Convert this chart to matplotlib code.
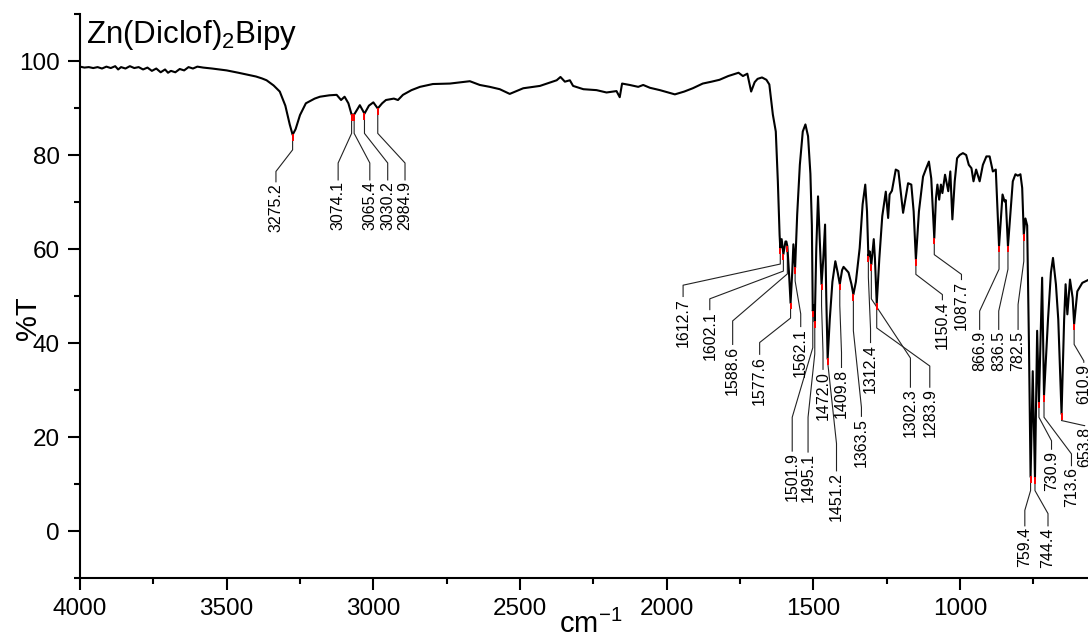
import numpy as np
import matplotlib
matplotlib.use("Agg")
from matplotlib import pyplot as plt
from matplotlib.ticker import MultipleLocator

# IR spectrum
wavenumber = [
  4000, 3985, 3970, 3955, 3940, 3925, 3910, 3895, 3880, 3870, 3860, 3845, 3830, 3815, 3800,
  3785, 3770, 3755, 3740, 3725, 3710, 3700, 3690, 3675, 3660, 3645, 3630, 3615, 3600, 3580,
  3550, 3500, 3460, 3430, 3400, 3380, 3364, 3340, 3319, 3300, 3285, 3275.2, 3265, 3250, 3230,
  3200, 3182, 3150, 3125, 3110, 3098, 3085, 3074.1, 3065.4, 3046, 3030.2, 3015, 3000, 2984.9,
  2970, 2957, 2930, 2916, 2899, 2870, 2841, 2797, 2739, 2671, 2637, 2603, 2569, 2535, 2489,
  2432, 2375, 2362, 2347, 2330, 2319, 2284, 2239, 2205, 2171, 2160, 2152, 2126, 2097, 2080,
  2057, 2023, 1972, 1940, 1911, 1877, 1847, 1820, 1790, 1770, 1755, 1740, 1725, 1712, 1700,
  1690, 1675, 1660, 1650, 1638, 1628, 1621, 1615, 1612.7, 1608, 1602.1, 1595, 1592, 1588.6,
  1583, 1577.6, 1572, 1568, 1562.1, 1555, 1546, 1536, 1527, 1518, 1510, 1505, 1501.9, 1498,
  1495.1, 1490, 1484, 1478, 1472.0, 1466, 1460, 1456, 1451.2, 1444, 1435, 1425, 1417, 1409.8,
  1402, 1397, 1380, 1370, 1363.5, 1355, 1342, 1332, 1323, 1317, 1312.4, 1308, 1302.3, 1294,
  1290, 1283.9, 1275, 1265, 1253, 1245, 1240, 1232, 1219, 1210, 1194, 1177, 1166, 1158,
  1150.4, 1140, 1126, 1115, 1106, 1098, 1087.7, 1082, 1077, 1071, 1065, 1060, 1051, 1040,
  1033, 1026, 1018, 1010, 1001, 990, 979, 970, 961, 954, 945, 933, 922, 910, 899, 888, 878,
  866.9, 855, 848, 844, 836.5, 820, 811, 803, 794, 788, 782.5, 777, 771, 765, 759.4, 752,
  744.4, 737, 730.9, 720, 713.6, 700, 690, 683, 673, 665, 653.8, 645, 640, 634, 625, 616,
  610.9, 600, 583, 560]
transmittance = [
  98.8, 98.6, 98.7, 98.5, 98.7, 98.4, 98.8, 98.5, 98.9, 98.2, 98.7, 98.4, 98.9, 98.5, 98.7,
  98.2, 98.6, 97.9, 98.4, 97.6, 98.2, 97.5, 97.9, 97.6, 98.3, 98.0, 98.7, 98.4, 98.8, 98.6,
  98.4, 98.0, 97.5, 97.1, 96.7, 96.3, 95.9, 94.8, 93.5, 90.5, 86.5, 84.3, 85.5, 88.5, 91.0,
  92.0, 92.4, 92.7, 92.8, 91.7, 92.4, 91.0, 88.6, 88.6, 90.6, 88.8, 90.5, 91.2, 89.9,
  91.0, 91.7, 92.0, 91.7, 92.8, 93.8, 94.5, 95.1, 95.2, 95.7, 94.9, 94.5, 94.0, 93.0, 94.2,
  94.7, 95.9, 96.6, 95.6, 95.9, 94.7, 94.0, 93.8, 93.3, 93.6, 92.3, 95.2, 94.9, 94.5, 94.9,
  94.3, 93.8, 92.9, 93.5, 94.2, 95.2, 95.6, 96.0, 96.8, 97.2, 97.5, 96.8, 97.3, 93.5, 95.5,
  96.2, 96.5, 96.0, 95.0, 88.6, 85.0, 74.4, 63.0, 60.2, 62.1, 58.9, 61.6, 61.6, 60.6,
  55.0, 48.5, 55.0, 61.0, 56.0, 67.4, 77.9, 85.0, 86.5, 84.0, 76.0, 65.0, 46.8, 48.0,
  44.5, 60.0, 71.2, 62.0, 52.5, 58.0, 65.2, 50.0, 36.6, 45.0, 53.0, 57.4, 55.0, 52.5,
  55.5, 56.2, 55.0, 52.5, 50.3, 53.0, 60.2, 69.5, 73.7, 68.0, 58.5, 59.5, 56.7, 62.1,
  58.0, 48.3, 58.0, 67.0, 72.2, 66.6, 71.6, 72.4, 76.9, 76.6, 67.7, 74.0, 73.7, 68.0,
  57.8, 68.0, 75.4, 77.2, 78.6, 75.0, 62.3, 70.8, 73.7, 70.5, 73.7, 71.9, 75.8, 72.3,
  76.5, 66.3, 74.4, 79.3, 80.0, 80.4, 80.0, 77.9, 77.2, 74.4, 76.9, 74.4, 77.9, 79.7, 79.7, 76.5, 76.9,
  60.6, 71.6, 70.1, 70.4, 60.6, 74.4, 75.9, 75.6, 75.9, 73.0, 63.1, 66.5, 65.0, 40.0, 11.5, 34.0,
  11.3, 42.6, 27.4, 53.9, 28.8, 45.0, 55.0, 58.1, 52.5, 45.0, 24.9, 45.0, 52.5, 46.1, 53.5, 49.6,
  44.0, 51.0, 52.8, 53.5]

peak_labels = [3275.2, 3074.1, 3065.4, 3030.2, 2984.9, 1612.7, 1602.1, 1588.6, 1577.6, 1562.1,
  1501.9, 1495.1, 1472.0, 1451.2, 1409.8, 1363.5, 1312.4, 1302.3, 1283.9, 1150.4, 1087.7,
  866.9, 836.5, 782.5, 759.4, 744.4, 730.9, 713.6, 653.8, 610.9]

# leader layout: where each label sits and where its leader bends
label_x = [3332, 3120, 3012, 2951, 2892, 1944, 1853, 1775, 1683, 1543,
  1572, 1518, 1467, 1421, 1404, 1336, 1305, 1169, 1103, 1060, 995,
  933, 868, 802, 779, 700, 688, 620, 575, 578]
knee_top = [81.1, 84.6, 84.6, 84.6, 84.6, 56.8, 55.3, 54.7, 45.3, 53.2,
  39.0, 37.7, 48.0, 36.0, 48.0, 42.6, 54.0, 49.4, 43.2, 54.6, 58.8,
  55.7, 55.7, 57.4, 8.6, 8.6, 24.2, 24.2, 23.5, 39.7]
knee_bottom = [76.5, 78.3, 78.3, 78.3, 78.3, 52.3, 49.4, 44.7, 40.1, 46.2,
  24.2, 24.2, 38.0, 18.6, 38.0, 26.3, 43.0, 36.8, 35.1, 50.3, 54.6,
  46.8, 46.8, 48.2, 4.4, 3.7, 19.2, 16.4, 22.4, 36.2]
text_top = [74.0, 74.4, 74.4, 74.4, 74.4, 49.6, 46.8, 39.4, 37.3, 43.2,
  16.7, 16.5, 34.1, 12.5, 34.5, 24.1, 39.8, 30.3, 30.3, 48.9, 53.2,
  42.6, 42.6, 42.6, 0.8, 0.8, 17.1, 13.6, 22.1, 35.6]

x_ticks = [4000, 3500, 3000, 2500, 2000, 1500, 1000]

plt.rcParams['font.family'] = ['Liberation Sans', 'DejaVu Sans']
plt.rcParams['mathtext.fontset'] = 'custom'
plt.rcParams['mathtext.rm'] = 'Liberation Sans'
plt.rcParams['mathtext.it'] = 'Liberation Sans:italic'
plt.rcParams['mathtext.default'] = 'regular'

fig = plt.figure(figsize=(10.88, 6.41), dpi=100)
ax = fig.add_axes([80 / 1088, 63 / 641, 1056 / 1088, 564 / 641])

ax.plot(wavenumber, transmittance, color='black', lw=1.5, zorder=3)

peak_t = np.interp(peak_labels, wavenumber[::-1], transmittance[::-1])
for wn, t, lx, k1, k2, top in zip(peak_labels, peak_t, label_x, knee_top, knee_bottom, text_top):
  ax.plot([wn, wn, lx, lx], [t, k1, k2, top + 0.3], color='#222222', lw=0.8, zorder=2)
  ax.plot([wn, wn], [t - 0.1, t - 1.1], color='red', lw=1.4, zorder=4)
  ax.text(lx, top, f"{wn:.1f}", rotation=90, ha='center', va='top', fontsize=11.5)

ax.set_xlim(4000, 400)
ax.set_ylim(-10, 110)
ax.set_xticks(x_ticks)
ax.xaxis.set_minor_locator(MultipleLocator(250))
ax.yaxis.set_major_locator(MultipleLocator(20))
ax.yaxis.set_minor_locator(MultipleLocator(10))
for side in ['top', 'right']:
  ax.spines[side].set_visible(False)
for side in ['left', 'bottom']:
  ax.spines[side].set_linewidth(1.5)
ax.tick_params(which='major', direction='out', length=8.5, width=1.5, labelsize=17.5, pad=6)
ax.tick_params(which='minor', direction='out', length=4, width=1.5)

ax.text(0.0057, 0.9486, "Zn(Diclof)$_2$Bipy", fontsize=22.5, transform=ax.transAxes, va='baseline')
ax.text(-0.049, 0.461, '%T', rotation=90, fontsize=21, ha='center', va='center', transform=ax.transAxes)
ax.text(0.484, -0.0975, 'cm$^{-1}$', fontsize=21, ha='center', va='baseline', transform=ax.transAxes)

fig.savefig('out.png', dpi=100)
